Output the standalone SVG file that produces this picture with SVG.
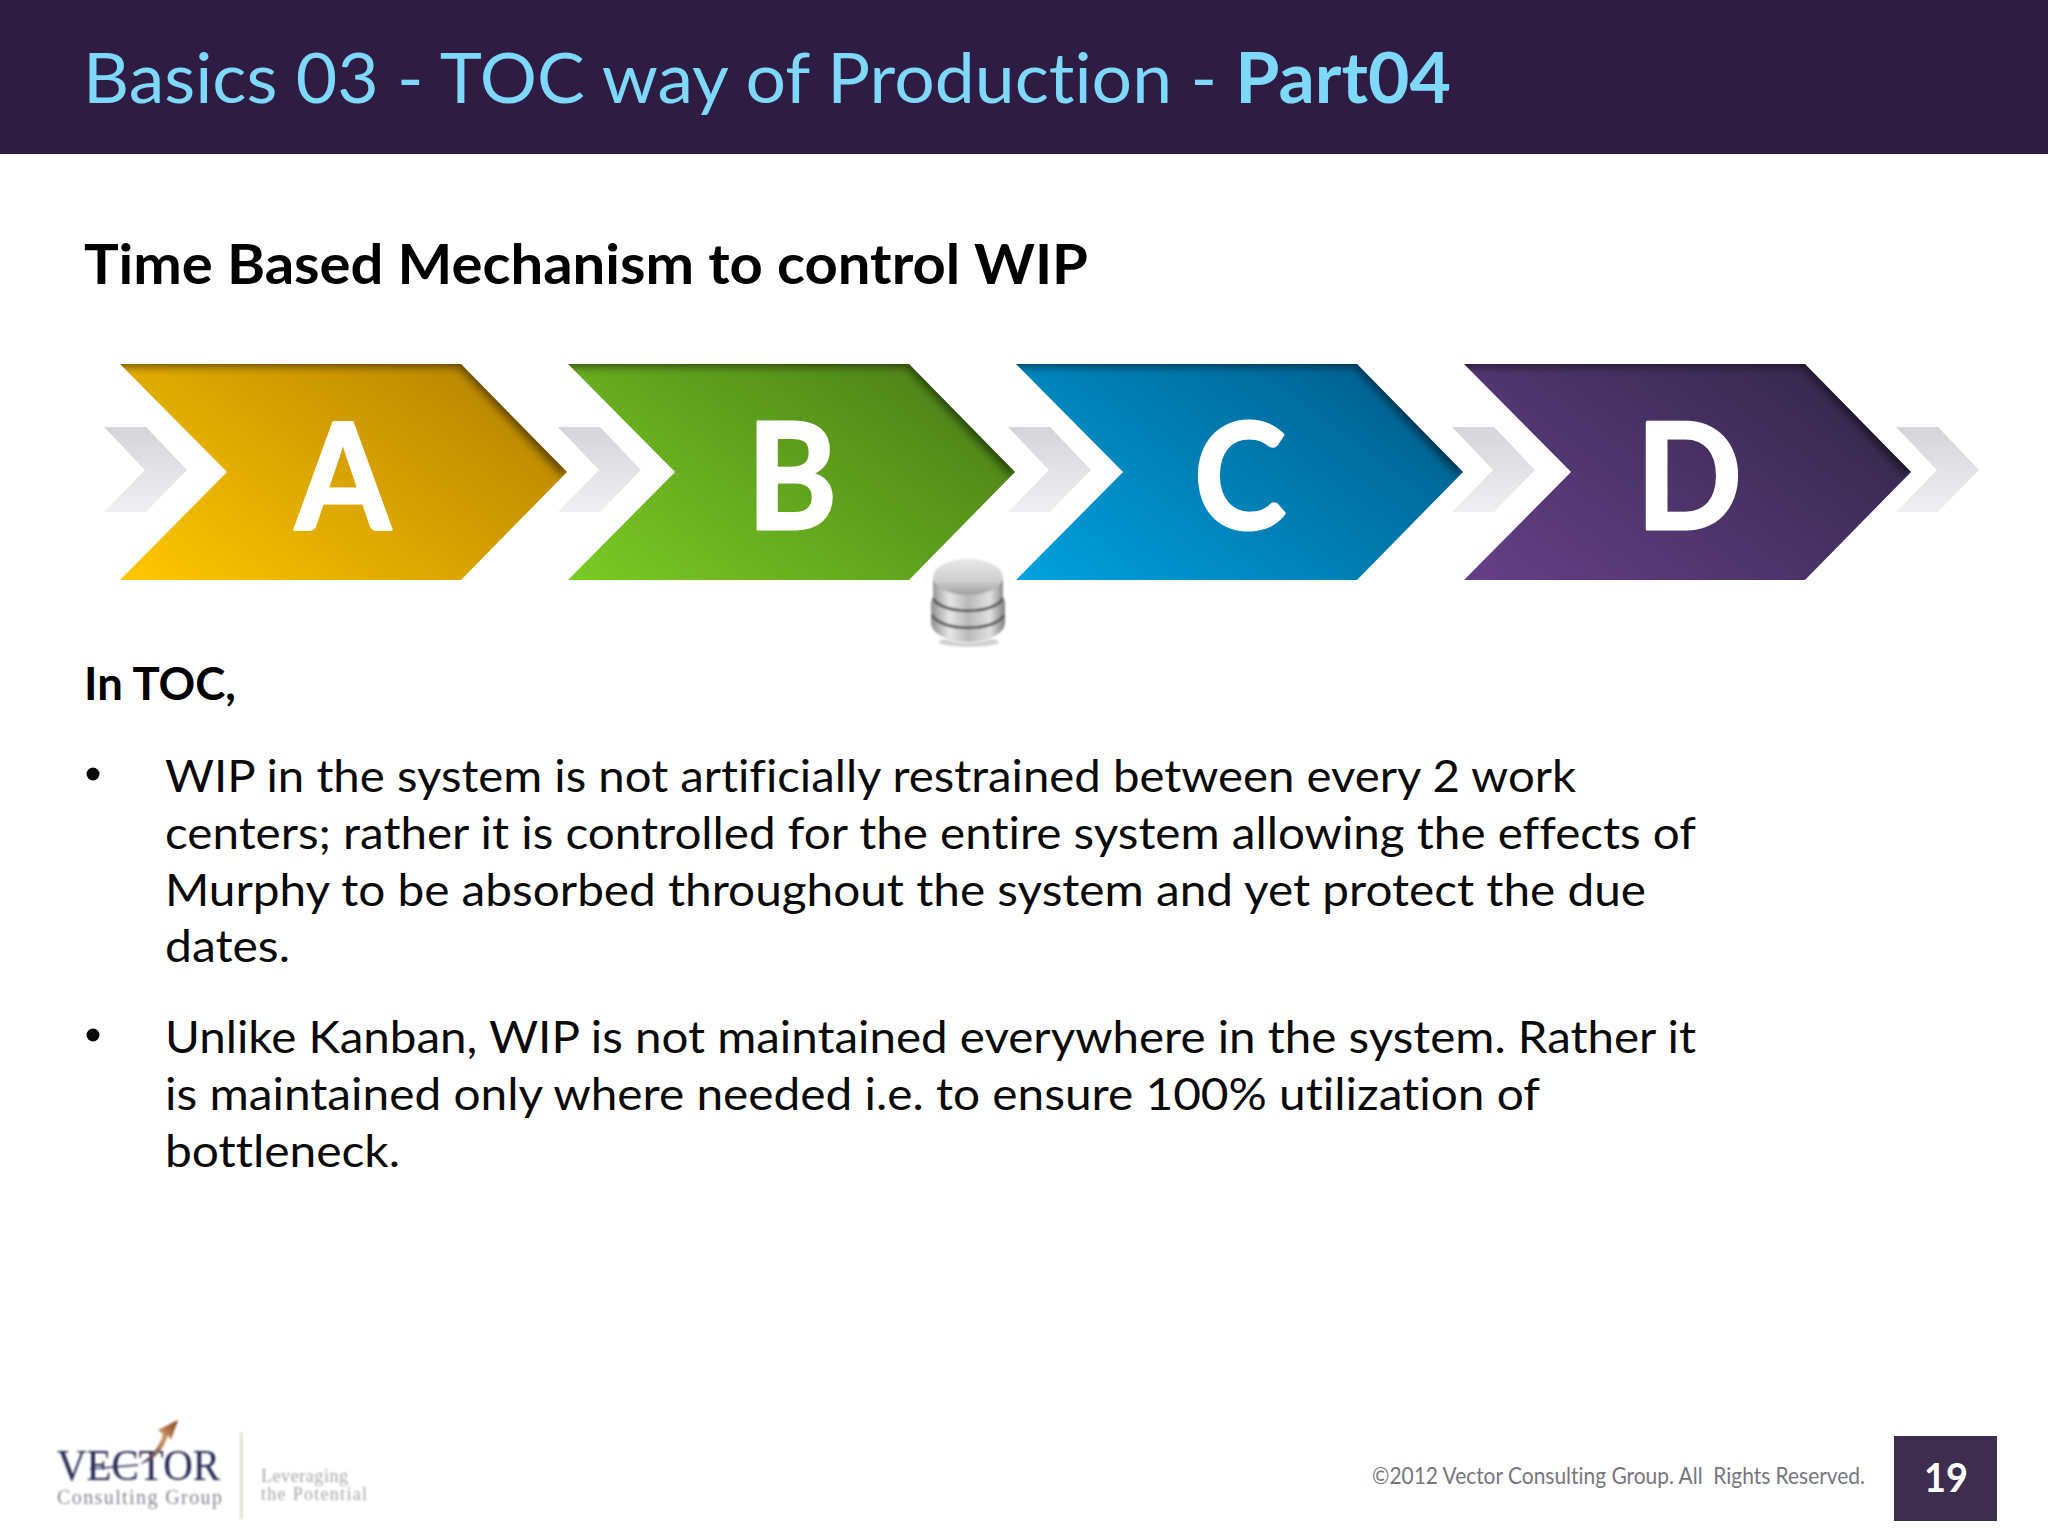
<svg xmlns="http://www.w3.org/2000/svg" width="2048" height="1536" viewBox="0 0 2048 1536">
<style>
text{font-family:"Lato","Carlito","Open Sans",sans-serif;font-variant-ligatures:none;white-space:pre}
.body{font-size:45px;fill:#0a0a0a}
.letter{font-size:148px;font-weight:700;fill:#fff;stroke:#fff;stroke-width:3;stroke-linejoin:round;text-anchor:middle}
.grey{fill:url(#gGrey)}
.shade{fill:none;stroke:#000;stroke-width:12;stroke-opacity:.5;filter:url(#b5)}
.lserif{font-family:"Liberation Serif",serif}
</style>
<defs>
<path id="chev" d="M0 0H341L447 108L341 216H0L107 108Z"/>
<path id="gchev" d="M0 0H42L83 43L42 85H0L41 43Z"/>
<clipPath id="cchev"><use href="#chev"/></clipPath>
<filter id="b5" x="-20%" y="-20%" width="140%" height="140%"><feGaussianBlur stdDeviation="4"/></filter>
<filter id="b1" x="-20%" y="-20%" width="140%" height="140%"><feGaussianBlur stdDeviation="1"/></filter>
<filter id="b07" x="-20%" y="-20%" width="140%" height="140%"><feGaussianBlur stdDeviation="0.8"/></filter>
<linearGradient id="gGrey" x1="0" y1="0" x2="0" y2="1"><stop offset="0" stop-color="#d5d4d9"/><stop offset="1" stop-color="#f0f0f2"/></linearGradient>
<linearGradient id="gA" x1="0" y1="1" x2="1" y2="0.35"><stop offset="0" stop-color="#ffc800"/><stop offset="1" stop-color="#bb8800"/></linearGradient>
<linearGradient id="gB" x1="0" y1="1" x2="1" y2="0.35"><stop offset="0" stop-color="#7acb24"/><stop offset="1" stop-color="#4f8418"/></linearGradient>
<linearGradient id="gC" x1="0" y1="1" x2="1" y2="0.35"><stop offset="0" stop-color="#00a2df"/><stop offset="1" stop-color="#006292"/></linearGradient>
<linearGradient id="gD" x1="0" y1="1" x2="1" y2="0.35"><stop offset="0" stop-color="#663f88"/><stop offset="1" stop-color="#36294e"/></linearGradient>
<linearGradient id="gDb" x1="0" y1="0" x2="1" y2="0"><stop offset="0" stop-color="#8f8f8f"/><stop offset=".25" stop-color="#e6e6e6"/><stop offset=".5" stop-color="#b9b9b9"/><stop offset=".8" stop-color="#e0e0e0"/><stop offset="1" stop-color="#808080"/></linearGradient>
<linearGradient id="gDt" x1="0" y1="0" x2="0" y2="1"><stop offset="0" stop-color="#e8e8e8"/><stop offset=".6" stop-color="#cfcfcf"/><stop offset="1" stop-color="#a0a0a0"/></linearGradient>
<linearGradient id="gArrow" x1="0" y1="1" x2="1" y2="0"><stop offset="0" stop-color="#2a2a5a"/><stop offset=".6" stop-color="#d09a60"/><stop offset="1" stop-color="#7a3a20"/></linearGradient>
</defs>
<rect width="2048" height="1536" fill="#fff"/>
<g id="header">
<rect width="2048" height="154" fill="#2f1c42"/>
<text x="83" y="103" font-size="70" fill="#7ed8fb" textLength="1368" lengthAdjust="spacingAndGlyphs">Basics 03 - TOC way of Production - <tspan font-weight="700">Part04</tspan></text>
</g>
<text id="subtitle" x="84" y="284" font-size="55" font-weight="700" fill="#000" textLength="1004" lengthAdjust="spacingAndGlyphs">Time Based Mechanism to control WIP</text>
<g id="connectors">
<use href="#gchev" class="grey" x="104" y="427"/>
<use href="#gchev" class="grey" x="558" y="427"/>
<use href="#gchev" class="grey" x="1008" y="427"/>
<use href="#gchev" class="grey" x="1452" y="427"/>
<use href="#gchev" class="grey" x="1896" y="427"/>
</g>
<g id="node-a" transform="translate(120 364)"><use href="#chev" fill="url(#gA)"/><g clip-path="url(#cchev)"><path class="shade" d="M-10 -3H341L447 108"/></g><text class="letter" x="223" y="165" textLength="95" lengthAdjust="spacingAndGlyphs">A</text></g>
<g id="node-b" transform="translate(568 364)"><use href="#chev" fill="url(#gB)"/><g clip-path="url(#cchev)"><path class="shade" d="M-10 -3H341L447 108"/></g><text class="letter" x="224" y="165" textLength="90" lengthAdjust="spacingAndGlyphs">B</text></g>
<g id="node-c" transform="translate(1016 364)"><use href="#chev" fill="url(#gC)"/><g clip-path="url(#cchev)"><path class="shade" d="M-10 -3H341L447 108"/></g><text class="letter" x="224" y="165" textLength="92" lengthAdjust="spacingAndGlyphs">C</text></g>
<g id="node-d" transform="translate(1464 364)"><use href="#chev" fill="url(#gD)"/><g clip-path="url(#cchev)"><path class="shade" d="M-10 -3H341L447 108"/></g><text class="letter" x="225" y="165" textLength="106" lengthAdjust="spacingAndGlyphs">D</text></g>
<g id="wip-stack" filter="url(#b07)" transform="translate(1 0)">
<ellipse cx="968" cy="642" rx="30" ry="5" fill="#000" opacity=".18"/>
<path d="M932 578V598L930 602V622C930 648 1004 648 1004 622V602L1002 598V578Z" fill="url(#gDb)"/>
<path d="M932 598C940 615 994 615 1002 598M931 615C940 632 994 632 1003 615" fill="none" stroke="#5f5f5f" stroke-width="3"/>
<ellipse cx="967" cy="577" rx="35" ry="18" fill="url(#gDt)"/>
</g>
<g id="content">
<text x="84" y="700" font-size="45" font-weight="700" fill="#000" textLength="152" lengthAdjust="spacingAndGlyphs">In TOC,</text>
<circle cx="93" cy="774" r="6.5" fill="#0a0a0a"/>
<text class="body" x="165" y="792" textLength="1411" lengthAdjust="spacingAndGlyphs">WIP in the system is not artificially restrained between every 2 work</text>
<text class="body" x="165" y="849" textLength="1531" lengthAdjust="spacingAndGlyphs">centers; rather it is controlled for the entire system allowing the effects of</text>
<text class="body" x="165" y="906" textLength="1481" lengthAdjust="spacingAndGlyphs">Murphy to be absorbed throughout the system and yet protect the due</text>
<text class="body" x="165" y="962" textLength="125" lengthAdjust="spacingAndGlyphs">dates.</text>
<circle cx="93" cy="1035" r="6.5" fill="#0a0a0a"/>
<text class="body" x="165" y="1053" textLength="1531" lengthAdjust="spacingAndGlyphs">Unlike Kanban, WIP is not maintained everywhere in the system. Rather it</text>
<text class="body" x="165" y="1110" textLength="1375" lengthAdjust="spacingAndGlyphs">is maintained only where needed i.e. to ensure 100% utilization of</text>
<text class="body" x="165" y="1167" textLength="235" lengthAdjust="spacingAndGlyphs">bottleneck.</text>
</g>
<g id="logo" filter="url(#b1)">
<text class="lserif" x="57" y="1480" font-size="45" fill="#2b2b55" textLength="163" lengthAdjust="spacingAndGlyphs">VECTOR</text>
<text class="lserif" x="57" y="1504" font-size="20" fill="#85878f" textLength="165" lengthAdjust="spacing">Consulting Group</text>
<path d="M140 1464C152 1456 160 1446 163 1434L158 1430L178 1420L171 1440L168 1435C164 1450 152 1462 140 1464Z" fill="url(#gArrow)"/>
<path d="M90 1469L138 1465" stroke="#2b2b55" stroke-width="1.5"/>
<rect x="240" y="1432" width="2.5" height="87" fill="#dcdcc0"/>
<text class="lserif" x="261" y="1482" font-size="18" fill="#a5a5a5" textLength="87" lengthAdjust="spacing">Leveraging</text>
<text class="lserif" x="261" y="1500" font-size="18" fill="#a5a5a5" textLength="106" lengthAdjust="spacing">the Potential</text>
</g>
<g id="footer">
<text x="1372" y="1484" font-size="23" fill="#77757d" textLength="493" lengthAdjust="spacingAndGlyphs">©2012 Vector Consulting Group. All  Rights Reserved.</text>
<rect x="1894" y="1436" width="103" height="85" fill="#3d2e50"/>
<text x="1946" y="1492" font-size="41" font-weight="700" fill="#fff" text-anchor="middle" textLength="44" lengthAdjust="spacingAndGlyphs">19</text>
</g>
</svg>
